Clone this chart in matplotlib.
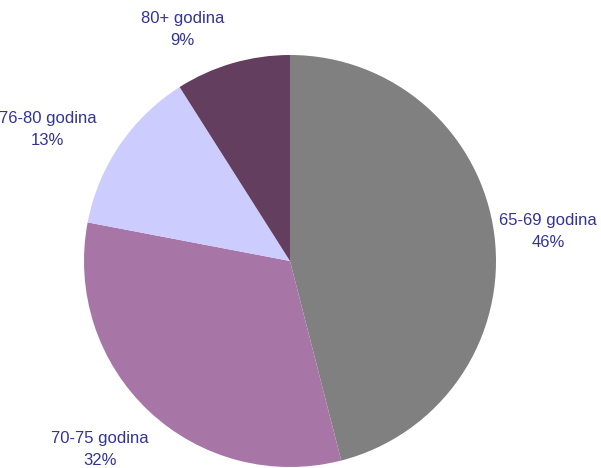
import numpy as np
import matplotlib
matplotlib.use("Agg")
import matplotlib.pyplot as plt

# age groups and their share
categories = ["65-69 godina", "70-75 godina", "76-80 godina", "80+ godina"]
shares = [46, 32, 13, 9]
colors = ["#808080", "#A775A6", "#CCCCFF", "#643E5E"]

# label placement: distance from centre (radii) and angle shift from wedge middle (deg)
label_dist = [1.26, 1.30, 1.34, 1.24]
label_shift = [-0.7, -2.0, 5.7, 8.6]

plt.rcParams['font.family'] = ['Liberation Sans', 'DejaVu Sans']

fig = plt.figure(figsize=(6.01, 4.68), dpi=100)
ax = fig.add_axes([(290 - 206) / 601, (468 - 467) / 468, 412 / 601, 412 / 468])

wedges, texts = ax.pie(shares, colors=colors, startangle=90, counterclock=False,
                       radius=1.0, wedgeprops=dict(linewidth=0))

for w, t, name, val, d, s in zip(wedges, texts, categories, shares, label_dist, label_shift):
    ang = np.deg2rad((w.theta1 + w.theta2) / 2 + s)
    t.set_position((d * np.cos(ang), d * np.sin(ang)))
    t.set_text("%s\n%d%%" % (name, val))
    t.set_ha("center")
    t.set_va("center")
    t.set_fontsize(12)
    t.set_color("#333399")
    t.set_linespacing(1.6)

ax.set_xlim(-1, 1)
ax.set_ylim(-1, 1)
ax.set_aspect("equal")
ax.axis("off")

fig.savefig("out.png", dpi=100)
